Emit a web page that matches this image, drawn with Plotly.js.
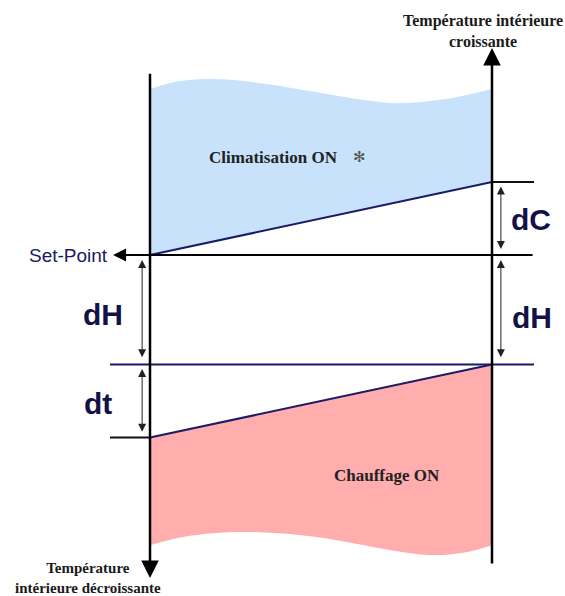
<!DOCTYPE html>
<html>
<head>
<meta charset="utf-8">
<script src="https://cdn.plot.ly/plotly-3.0.1.min.js"></script>
<style>html,body{margin:0;padding:0;background:#fff;}#chart{width:565px;height:596px;}</style>
</head>
<body>
<div id="chart"></div>
<script>
// ---- Diagram data (temperature units relative to the set-point) ----
const setPoint = 0;
const dC = 2;      // cooling differential
const dH = 3;      // heating neutral band
const dt = 2;      // heating differential

// upper wavy edge of the cooling ("Climatisation ON") zone
const coolWaveX = [0, 0.08, 0.17, 0.3, 0.45, 0.6, 0.72, 0.85, 1];
const coolWaveY = [4.55, 4.75, 4.82, 4.74, 4.52, 4.28, 4.16, 4.25, 4.55];

// lower wavy edge of the heating ("Chauffage ON") zone
const heatWaveX = [0, 0.1, 0.25, 0.4, 0.55, 0.7, 0.82, 0.92, 1];
const heatWaveY = [-7.95, -7.72, -7.59, -7.64, -7.82, -8.08, -8.22, -8.15, -7.95];

// texts
const zoneLabels = ['Climatisation ON', 'Chauffage ON'];
const bandLabels = ['dC', 'dH', 'dH', 'dt'];
const axisTop = 'Température intérieure<br>croissante';
const axisBottom = 'Température<br>intérieure décroissante';
const setPointLabel = 'Set-Point';

// ---- derived levels ----
const coolOn = setPoint + dC;
const heatOff = setPoint - dH;
const heatOn = heatOff - dt;

const navy = '#1b1b68';
const ink = '#121248';
const serif = 'Liberation Serif, Times New Roman, serif';
const sans = 'Liberation Sans, Arial, sans-serif';

const xL = 0, xR = 1;          // the two time axes
const stubL = -0.117, stubR = 1.123;

const traces = [
  // heating zone fill
  {x: [xL, xR], y: [heatOn, heatOff], mode: 'lines', line: {width: 0, color: 'rgba(0,0,0,0)'}, hoverinfo: 'skip'},
  {x: heatWaveX, y: heatWaveY, mode: 'lines', line: {width: 0, color: 'rgba(0,0,0,0)', shape: 'spline'},
   fill: 'tonexty', fillcolor: 'rgb(255,173,173)', hoverinfo: 'skip'},
  // cooling zone fill
  {x: [xL, xR], y: [setPoint, coolOn], mode: 'lines', line: {width: 0, color: 'rgba(0,0,0,0)'}, hoverinfo: 'skip'},
  {x: coolWaveX, y: coolWaveY, mode: 'lines', line: {width: 0, color: 'rgba(0,0,0,0)', shape: 'spline'},
   fill: 'tonexty', fillcolor: 'rgb(199,226,250)', hoverinfo: 'skip'},
  // black threshold stubs
  {x: [xR, stubR, null, stubL, xL], y: [coolOn, coolOn, null, heatOn, heatOn], mode: 'lines',
   line: {width: 2, color: '#111'}, hoverinfo: 'skip'},
  // navy lines: heat-off level and the two ramps
  {x: [stubL, stubR, null, xL, xR, null, xL, xR], y: [heatOff, heatOff, null, setPoint, coolOn, null, heatOn, heatOff],
   mode: 'lines', line: {width: 2, color: navy}, hoverinfo: 'skip'}
];

function arrow(xh, yh, xt, yt, w, size, color, both) {
  return {x: xh, y: yh, ax: xt, ay: yt, xref: 'x', yref: 'y', axref: 'x', ayref: 'y',
    text: '', showarrow: true, arrowhead: 2, arrowsize: size, arrowwidth: w, arrowcolor: color,
    arrowside: both ? 'end+start' : 'end', startarrowhead: 2, startarrowsize: size, standoff: 0, startstandoff: 0};
}
function label(x, y, text, font, xanchor) {
  return {x: x, y: y, xref: 'x', yref: 'y', text: text, showarrow: false, font: font,
    xanchor: xanchor || 'center', yanchor: 'middle'};
}

const big = {family: sans, size: 30, color: ink, weight: 'bold'};
const serifB = {family: serif, size: 16, color: '#1a1a1a', weight: 'bold'};

const annotations = [
  // main axes
  arrow(xR, 5.67, xR, -8.49, 2.5, 1.4, '#000', false),
  arrow(xL, -8.85, xL, 5.01, 2.5, 1.4, '#000', false),
  // set-point line with arrow
  arrow(-0.108, setPoint, stubR, setPoint, 2, 1.3, '#000', false),
  // small double arrows
  arrow(1.026, coolOn - 0.12, 1.026, setPoint + 0.12, 1, 1.6, '#222', true),
  arrow(1.026, setPoint - 0.14, 1.026, heatOff + 0.16, 1, 1.6, '#222', true),
  arrow(-0.023, setPoint - 0.14, -0.023, heatOff + 0.16, 1, 1.6, '#222', true),
  arrow(-0.023, heatOff - 0.12, -0.023, heatOn + 0.12, 1, 1.6, '#222', true),
  // band labels
  label(1.114, 0.96, bandLabels[0], big),
  label(1.118, -1.70, bandLabels[1], big),
  label(-0.137, -1.64, bandLabels[2], big),
  label(-0.152, -4.08, bandLabels[3], big),
  // set-point label
  label(-0.117, setPoint, setPointLabel, {family: sans, size: 19, color: '#1a1a5e'}, 'right'),
  // zone labels
  label(0.167, 2.68, zoneLabels[0], {family: serif, size: 17, color: '#222', weight: 'bold'}, 'left'),
  label(0.612, 2.68, '✻', {family: 'DejaVu Sans', size: 15, color: '#555'}),
  label(0.693, -6.05, zoneLabels[1], {family: serif, size: 17, color: '#222', weight: 'bold'}),
  // axis titles
  label(0.975, 6.15, axisTop, serifB),
  label(-0.18, -8.86, axisBottom, {family: serif, size: 15, color: '#1a1a1a', weight: 'bold'})
];

const layout = {
  width: 565, height: 596,
  margin: {l: 0, r: 0, t: 0, b: 0},
  paper_bgcolor: '#ffffff', plot_bgcolor: '#ffffff',
  showlegend: false,
  xaxis: {range: [-0.4386, 1.2135], visible: false, fixedrange: true},
  yaxis: {range: [-9.342, 6.986], visible: false, fixedrange: true},
  annotations: annotations
};

Plotly.newPlot('chart', traces, layout, {displayModeBar: false, staticPlot: true});
</script>
</body>
</html>
